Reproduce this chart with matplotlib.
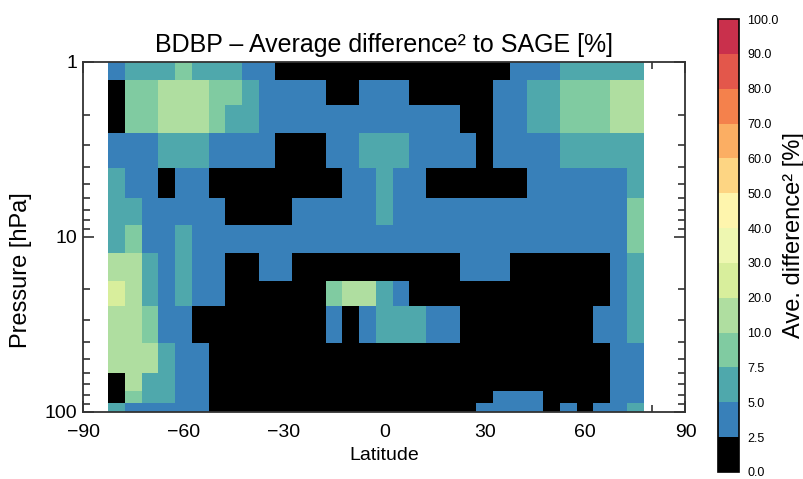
import numpy as np
import matplotlib
matplotlib.use("Agg")
import matplotlib.pyplot as plt
from matplotlib.colors import ListedColormap, BoundaryNorm
from matplotlib.ticker import FixedLocator, NullFormatter, LogLocator

plt.rcParams['font.family'] = ['Liberation Sans', 'DejaVu Sans']

# ---------------- data ----------------
# colour-bin boundaries of the average squared difference [%]
bounds = [0, 2.5, 5, 7.5, 10, 20, 30, 40, 50, 60, 70, 80, 90, 100]
bound_labels = ['0.0', '2.5', '5.0', '7.5', '10.0', '20.0', '30.0', '40.0',
                '50.0', '60.0', '70.0', '80.0', '90.0', '100.0']

# latitude cell edges (5 deg bins, -82.5 ... 77.5)
lat_edges = [-82.5, -77.5, -72.5, -67.5, -62.5, -57.5, -52.5, -47.5, -42.5,
             -37.5, -32.5, -27.5, -22.5, -17.5, -12.5, -7.5, -2.5, 2.5, 7.5,
             12.5, 17.5, 22.5, 27.5, 32.5, 37.5, 42.5, 47.5, 52.5, 57.5,
             62.5, 67.5, 72.5, 77.5]
# pressure cell edges [hPa], top to bottom
p_edges = [1.0, 1.27, 1.77, 2.55, 4.05, 6.0, 8.6, 12.4, 17.8, 24.8, 40.6,
           60.3, 76.0, 89.0, 100.0]

# value read for each class letter (K<2.5, B 2.5-5, T 5-7.5, G 7.5-10, L 10-20, Y 20-30)
class_values = {'K': 1.2, 'B': 3.8, 'T': 6.2, 'G': 8.8, 'L': 14.0, 'Y': 24.0}

# one string per pressure row (top -> bottom), one letter per latitude bin
diff_rows = [
    "BTTTGTTTBBKKKKKKKKKKKKKKBBBTTTTT",
    "KGGLLLGGTBBBBKKBBBKKKKKBBTTGGGLL",
    "KGGLLLGTTBBBBBBBBBBBBKKBBTTGGGLL",
    "BBBTTTBBBBKKKBBTTTBBBBKBBBBTTTTT",
    "TBBKBBKKKKKKKKBBTBBKKKKKKBBBBBBT",
    "TTBBBBBKKKKBBBBBTBBBBBBBBBBBBBBG",
    "TGBBTBBBBBBBBBBBBBBBBBBBBBBBBBBG",
    "LLTBTBBKKBBKKKKKKKKKKBBBKKKKKKBT",
    "YLTBTBBKKKKKKGLLTBKKKKKKKKKKKKBT",
    "LLGBBKKKKKKKKBKBTTTBBKKKKKKKKBBT",
    "LLLTBBKKKKKKKKKKKKKKKKKKKKKKKKBB",
    "KLTTBBKKKKKKKKKKKKKKKKKKKKKKKKBB",
    "KGTTBBKKKKKKKKKKKKKKKKKBBBKKKKBB",
    "TBBBBBKKKKKKKKKKKKKKKKBBBBKBKBBT",
]

values = np.array([[class_values[c] for c in row] for row in diff_rows])

# ---------------- style ----------------
colors = ['#000000', '#3880b9', '#4fa8ac', '#80cba1', '#afdea0', '#d8ee9c',
          '#eef7b1', '#fef5ad', '#fdd583', '#fbae63', '#f4814c', '#e3574b',
          '#c9304c']
cmap = ListedColormap(colors)
norm = BoundaryNorm(bounds, cmap.N)

W, H = 804, 479
fig = plt.figure(figsize=(W / 100, H / 100), dpi=100)
ax = fig.add_axes([83 / W, 1 - 411.5 / H, (685.5 - 83) / W, (411.5 - 62) / H])
cax = fig.add_axes([718 / W, 1 - 472 / H, 21 / W, 453 / H])

mesh = ax.pcolormesh(lat_edges, p_edges, values, cmap=cmap, norm=norm,
                     shading='flat', zorder=1, edgecolors='none',
                     antialiased=False)
ax.set_axisbelow(True)
for sp in ax.spines.values():
    sp.set_zorder(3)
    sp.set_linewidth(1.3)
    sp.set_color('#333333')

ax.set_yscale('log')
ax.set_xlim(-90, 90)
ax.set_ylim(100, 1)
ax.set_xticks([-90, -60, -30, 0, 30, 60, 90])
ax.set_xticklabels(['\u221290', '\u221260', '\u221230', '0', '30', '60', '90'])
ax.xaxis.set_minor_locator(FixedLocator(np.arange(-80, 90, 10)))
ax.set_yticks([1, 10, 100])
ax.set_yticklabels(['1', '10', '100'])
ax.yaxis.set_minor_locator(LogLocator(base=10, subs=np.arange(2, 10)))
ax.yaxis.set_minor_formatter(NullFormatter())
ax.tick_params(which='both', direction='in', top=True, right=True,
               color='#333333', labelsize=14)
ax.tick_params(which='major', length=8, width=1.2)
ax.tick_params(which='minor', length=5, width=1.2)
ax.tick_params(axis='x', which='major', pad=9)
ax.tick_params(axis='y', which='major', pad=4)

ax.set_xlabel('Latitude', fontsize=14, labelpad=4)
ax.set_ylabel('Pressure [hPa]', fontsize=17)
ax.yaxis.set_label_coords((32 - 83) / 602.5, (411.5 - 270) / 349.5)
ax.set_title('BDBP \u2013 Average difference\u00b2 to SAGE [%]', fontsize=18,
             pad=7)

cb = fig.colorbar(mesh, cax=cax, boundaries=bounds, ticks=bounds,
                  spacing='uniform')
cb.ax.set_yticklabels(bound_labels)
cb.ax.tick_params(length=0, labelsize=9, pad=6)
cb.outline.set_linewidth(1.2)
fig.text(794 / W, 1 - 235 / H, 'Ave. difference\u00b2 [%]', rotation=90,
         ha='center', va='center', fontsize=17)

fig.savefig('out.png', dpi=100)
